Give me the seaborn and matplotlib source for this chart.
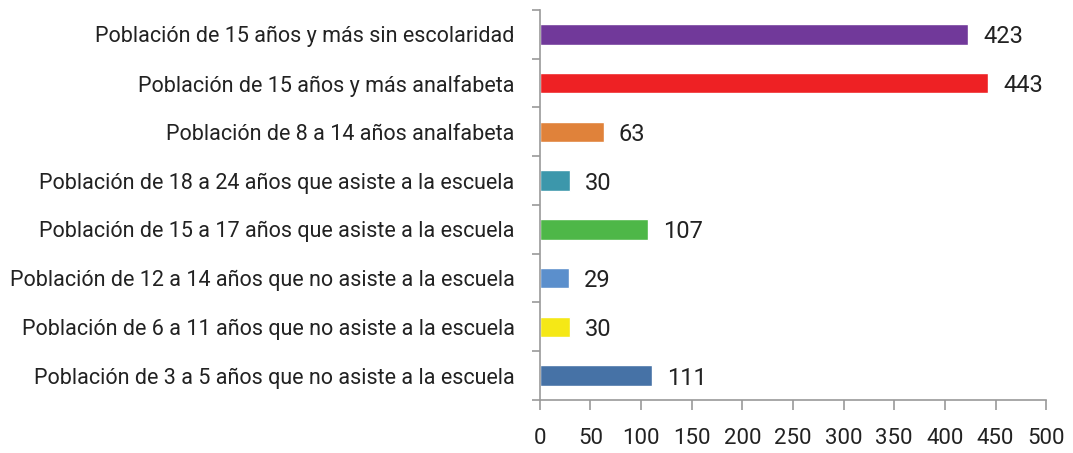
import matplotlib
matplotlib.use('Agg')
import matplotlib.pyplot as plt
import seaborn as sns
import pandas as pd
import numpy as np

categories = [
    'Población de 15 años y más sin escolaridad',
    'Población de 15 años y más analfabeta',
    'Población de 8 a 14 años analfabeta',
    'Población de 18 a 24 años que asiste a la escuela',
    'Población de 15 a 17 años que asiste a la escuela',
    'Población de 12 a 14 años que no asiste a la escuela',
    'Población de 6 a 11 años que no asiste a la escuela',
    'Población de 3 a 5 años que no asiste a la escuela',
]
values = [423, 443, 63, 30, 107, 29, 30, 111]
colors = ['#71399A', '#EE2124', '#E0823A', '#3C97AB', '#4EB748', '#5B8FCC', '#F5E816', '#4672A6']
x_ticks = [0, 50, 100, 150, 200, 250, 300, 350, 400, 450, 500]

sns.set_style('white')
plt.rcParams['font.family'] = ['Roboto', 'DejaVu Sans']
plt.rcParams['xtick.bottom'] = True
plt.rcParams['ytick.left'] = True

df = pd.DataFrame({'cat': categories, 'val': values})

fig = plt.figure(figsize=(10.73, 4.53), dpi=100)
ax = fig.add_axes([0.503, 0.117, 0.472, 0.861])
sns.barplot(data=df, x='val', y='cat', hue='cat', palette=colors, legend=False,
            width=0.42, orient='h', ax=ax, saturation=1)

for i, v in enumerate(values):
    ax.text(v + 15, i + 0.05, str(v), va='center', ha='left', fontsize=17, color='#222222')

ax.set_xlim(0, 500)
ax.set_ylim(len(categories) - 0.5, -0.5)
ax.set_xticks(x_ticks)
ax.set_xticklabels([str(t) for t in x_ticks], fontsize=16, color='#222222')
ax.set_xlabel('')
ax.set_ylabel('')
ax.tick_params(axis='y', which='major', left=False, length=0, labelsize=15.5, labelcolor='#222222', pad=18)
ax.set_yticks(np.arange(-0.5, len(categories), 1), minor=True)
ax.tick_params(axis='y', which='minor', left=True, length=6, color='#999999', direction='out', width=1.2)
ax.tick_params(axis='x', which='major', bottom=True, length=7, color='#999999', direction='out', width=1.2, pad=13)

for s in ['top', 'right']:
    ax.spines[s].set_visible(False)
for s in ['left', 'bottom']:
    ax.spines[s].set_color('#999999')
    ax.spines[s].set_linewidth(1.2)

fig.savefig('out.png', dpi=100)
